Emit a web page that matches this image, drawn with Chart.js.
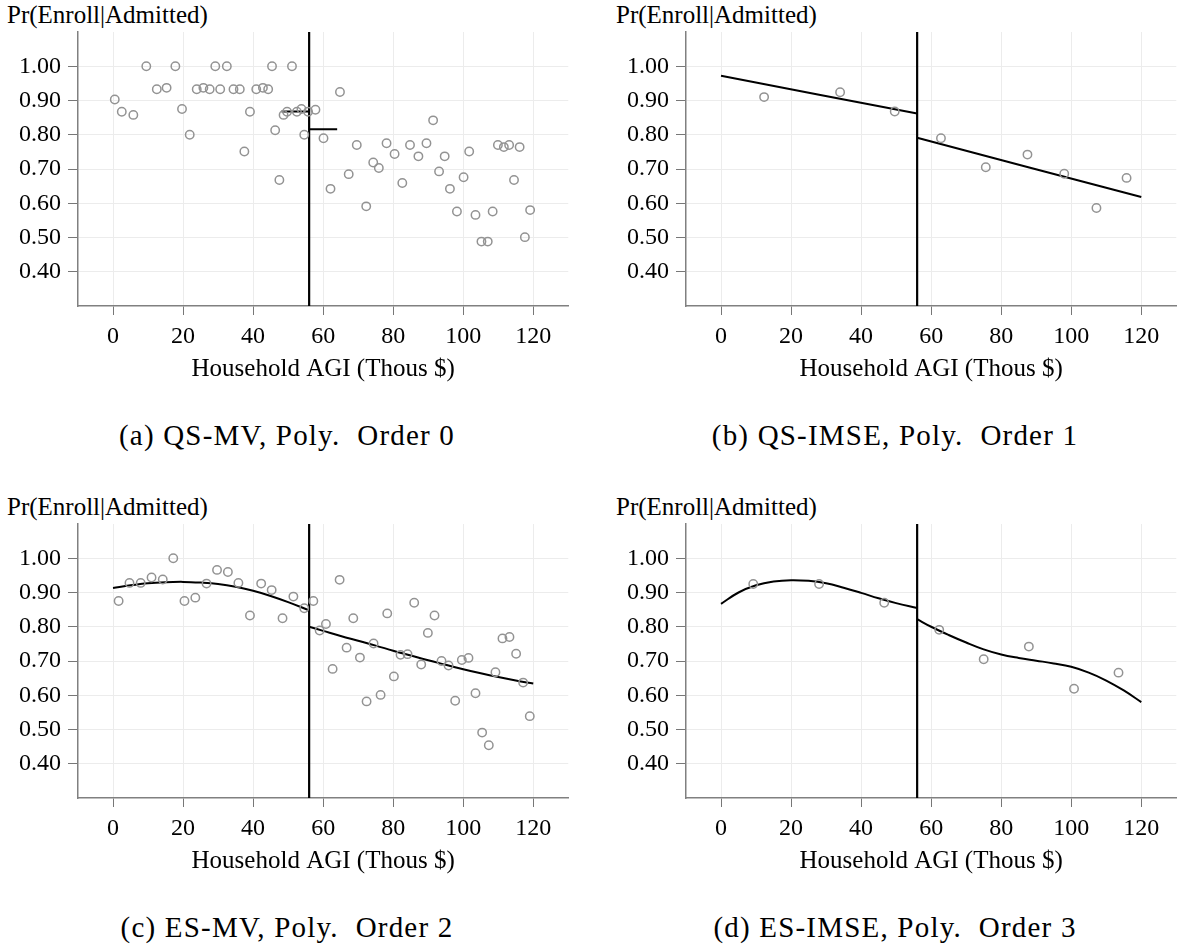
<!DOCTYPE html>
<html lang="en">
<head>
<meta charset="UTF-8">
<title>Pr(Enroll|Admitted) RD plots</title>
<script src="https://cdn.jsdelivr.net/npm/chart.js"></script>
<style>
  body { margin: 0; background: #fff; }
  #wrap { position: relative; width: 1182px; height: 948px; font-family: 'Liberation Serif', 'Times New Roman', serif; color: #000; }
  .panel { position: absolute; width: 574px; height: 400px; }
  .ylab { position: absolute; font-size: 25px; line-height: 30px; white-space: nowrap; }
  .cap { position: absolute; width: 574px; text-align: center; font-size: 29px; line-height: 32px; letter-spacing: 1.2px; white-space: pre; }
</style>
</head>
<body>
<div id="wrap">
  <div class="ylab" style="left:7px; top:0px;">Pr(Enroll|Admitted)</div>
  <div class="ylab" style="left:616px; top:0px;">Pr(Enroll|Admitted)</div>
  <div class="ylab" style="left:7px; top:492px;">Pr(Enroll|Admitted)</div>
  <div class="ylab" style="left:616px; top:492px;">Pr(Enroll|Admitted)</div>
  <div class="panel" style="left:0px; top:0px;"><canvas id="chartA" width="574" height="400"></canvas></div>
  <div class="panel" style="left:608px; top:0px;"><canvas id="chartB" width="574" height="400"></canvas></div>
  <div class="panel" style="left:0px; top:492px;"><canvas id="chartC" width="574" height="400"></canvas></div>
  <div class="panel" style="left:608px; top:492px;"><canvas id="chartD" width="574" height="400"></canvas></div>
  <div class="cap" style="left:0px; top:419px;">(a) QS-MV, Poly.  Order 0</div>
  <div class="cap" style="left:608px; top:419px;">(b) QS-IMSE, Poly.  Order 1</div>
  <div class="cap" style="left:0px; top:911px;">(c) ES-MV, Poly.  Order 2</div>
  <div class="cap" style="left:608px; top:911px;">(d) ES-IMSE, Poly.  Order 3</div>
</div>

<script>
const cutoff = 56;
const xTicks = [0, 20, 40, 60, 80, 100, 120];
const yTicks = [0.40, 0.50, 0.60, 0.70, 0.80, 0.90, 1.00];

// (a) QS-MV, order 0
const aX = [0.5, 2.5, 5.8, 9.5, 12.5, 15.3, 17.8, 19.7, 21.9, 23.9, 25.8, 27.6, 29.2, 30.6, 32.5, 34.4, 36.2, 37.5, 39.1, 40.9,
            42.8, 44.3, 45.4, 46.3, 47.5, 48.7, 49.7, 51.1, 52.5, 53.8, 54.6, 55.7, 57.8, 60.1, 62.1, 64.8, 67.3, 69.6, 72.3, 74.3,
            75.9, 78.1, 80.4, 82.6, 84.8, 87.2, 89.5, 91.4, 93.1, 94.7, 96.2, 98.2, 100.1, 101.7, 103.5, 105.2, 107.0, 108.4, 109.9, 111.6,
            113.1, 114.5, 116.1, 117.6, 119.1];
const aY = [0.903, 0.867, 0.858, 1.00, 0.933, 0.937, 1.00, 0.875, 0.80, 0.933, 0.937, 0.933, 1.00, 0.933, 1.00, 0.933, 0.933, 0.751, 0.867, 0.933,
            0.937, 0.933, 1.00, 0.813, 0.668, 0.858, 0.867, 1.00, 0.867, 0.875, 0.80, 0.867, 0.873, 0.79, 0.642, 0.925, 0.685, 0.770, 0.591, 0.719,
            0.703, 0.775, 0.744, 0.659, 0.770, 0.737, 0.775, 0.842, 0.693, 0.737, 0.642, 0.576, 0.676, 0.751, 0.566, 0.488, 0.488, 0.576, 0.770, 0.764,
            0.770, 0.668, 0.764, 0.501, 0.580];
const aFitLX = [48.1, 56], aFitLY = [0.868, 0.868];
const aFitRX = [56, 64], aFitRY = [0.816, 0.816];

// (b) QS-IMSE, order 1
const bX = [12.3, 34.0, 49.6, 62.8, 75.6, 87.5, 98.0, 107.2, 115.8];
const bY = [0.910, 0.924, 0.868, 0.790, 0.705, 0.742, 0.686, 0.586, 0.674];
const bFitLX = [0, 56], bFitLY = [0.972, 0.862];
const bFitRX = [56, 120], bFitRY = [0.791, 0.618];

// (c) ES-MV, order 2
const cX = [1.6, 4.7, 7.9, 11.0, 14.2, 17.2, 20.4, 23.5, 26.7, 29.7, 32.8, 35.8, 39.1, 42.3, 45.3, 48.4, 51.5, 54.6, 57.2, 59.0,
            60.8, 62.7, 64.7, 66.7, 68.6, 70.5, 72.4, 74.4, 76.4, 78.3, 80.2, 82.1, 84.1, 86.0, 88.0, 89.9, 91.8, 93.8, 95.8, 97.7,
            99.6, 101.5, 103.5, 105.4, 107.3, 109.2, 111.2, 113.2, 115.1, 117.1, 119.0];
const cY = [0.875, 0.928, 0.928, 0.944, 0.938, 1.00, 0.875, 0.885, 0.926, 0.966, 0.960, 0.928, 0.833, 0.926, 0.907, 0.825, 0.888, 0.854, 0.875, 0.789,
            0.808, 0.677, 0.937, 0.739, 0.825, 0.710, 0.582, 0.751, 0.601, 0.839, 0.655, 0.718, 0.720, 0.870, 0.690, 0.782, 0.833, 0.700, 0.687, 0.584,
            0.703, 0.709, 0.606, 0.491, 0.454, 0.667, 0.766, 0.770, 0.721, 0.637, 0.539];
const cFitLX = [0, 5, 10, 15, 20, 25, 30, 35, 40, 45, 50, 56];
const cFitLY = [0.913, 0.921, 0.927, 0.930, 0.931, 0.929, 0.925, 0.917, 0.905, 0.890, 0.872, 0.848];
const cFitRX = [56, 60, 65, 70, 75, 80, 85, 90, 95, 100, 105, 110, 115, 120];
const cFitRY = [0.800, 0.788, 0.773, 0.759, 0.745, 0.730, 0.716, 0.702, 0.689, 0.676, 0.664, 0.653, 0.643, 0.634];

// (d) ES-IMSE, order 3
const dX = [9.2, 28.0, 46.6, 62.3, 75.0, 87.9, 100.8, 113.5];
const dY = [0.925, 0.925, 0.870, 0.791, 0.705, 0.742, 0.619, 0.666];
const dFitLX = [0, 5, 10, 15, 20, 25, 30, 35, 40, 45, 50, 56];
const dFitLY = [0.867, 0.900, 0.921, 0.932, 0.936, 0.934, 0.927, 0.914, 0.899, 0.883, 0.869, 0.855];
const dFitRX = [56, 60, 65, 70, 75, 80, 85, 90, 95, 100, 105, 110, 115, 120];
const dFitRY = [0.822, 0.800, 0.776, 0.754, 0.734, 0.719, 0.709, 0.701, 0.693, 0.683, 0.666, 0.643, 0.614, 0.580];

const yMin = 0.3, yMax = 1.1;
const tickFont = { family: "'Liberation Serif', 'Times New Roman', serif", size: 24 };
const titleFont = { family: "'Liberation Serif', 'Times New Roman', serif", size: 25 };

function toXY(xs, ys) {
    return xs.map((x, i) => ({ x: x, y: ys[i] }));
}

function drawPanel(id, ptsX, ptsY, fits) {
    const datasets = [{
        data: toXY(ptsX, ptsY),
        showLine: false,
        pointRadius: 4.2,
        pointBorderWidth: 1.5,
        pointBorderColor: '#939393',
        pointBackgroundColor: 'rgba(0,0,0,0)'
    }];
    fits.forEach(f => {
        datasets.push({
            data: toXY(f[0], f[1]),
            showLine: true,
            borderColor: '#000',
            borderWidth: 2,
            pointRadius: 0,
            tension: 0.4
        });
    });
    // cutoff line
    datasets.push({
        data: [{ x: cutoff, y: yMin }, { x: cutoff, y: yMax }],
        showLine: true,
        borderColor: '#000',
        borderWidth: 2.2,
        pointRadius: 0
    });

    new Chart(document.getElementById(id), {
        type: 'scatter',
        data: { datasets: datasets },
        options: {
            responsive: false,
            animation: false,
            layout: { padding: { top: 32, left: 0, right: 0, bottom: 0 } },
            plugins: { legend: { display: false }, tooltip: { enabled: false } },
            scales: {
                x: {
                    type: 'linear',
                    min: -10,
                    max: 130,
                    afterBuildTicks: s => { s.ticks = xTicks.map(v => ({ value: v })); },
                    afterFit: s => { s.height = 94; },
                    ticks: { font: tickFont, color: '#000', padding: 7, maxRotation: 0, autoSkip: false },
                    grid: { color: '#ececec', lineWidth: 1, tickColor: '#777', tickLength: 9 },
                    border: { color: '#808080', width: 1.5 },
                    title: { display: true, text: 'Household AGI (Thous $)', font: titleFont, color: '#000', padding: { top: 0, bottom: 16 } }
                },
                y: {
                    type: 'linear',
                    min: yMin,
                    max: yMax,
                    afterBuildTicks: s => { s.ticks = yTicks.map(v => ({ value: v })); },
                    afterFit: s => { s.width = 78; },
                    ticks: { font: tickFont, color: '#000', padding: 7, callback: v => v.toFixed(2) },
                    grid: { color: '#ececec', lineWidth: 1, tickColor: '#777', tickLength: 10 },
                    border: { color: '#808080', width: 1.5 }
                }
            }
        }
    });
}

drawPanel('chartA', aX, aY, [[aFitLX, aFitLY], [aFitRX, aFitRY]]);
drawPanel('chartB', bX, bY, [[bFitLX, bFitLY], [bFitRX, bFitRY]]);
drawPanel('chartC', cX, cY, [[cFitLX, cFitLY], [cFitRX, cFitRY]]);
drawPanel('chartD', dX, dY, [[dFitLX, dFitLY], [dFitRX, dFitRY]]);
</script>
</body>
</html>
